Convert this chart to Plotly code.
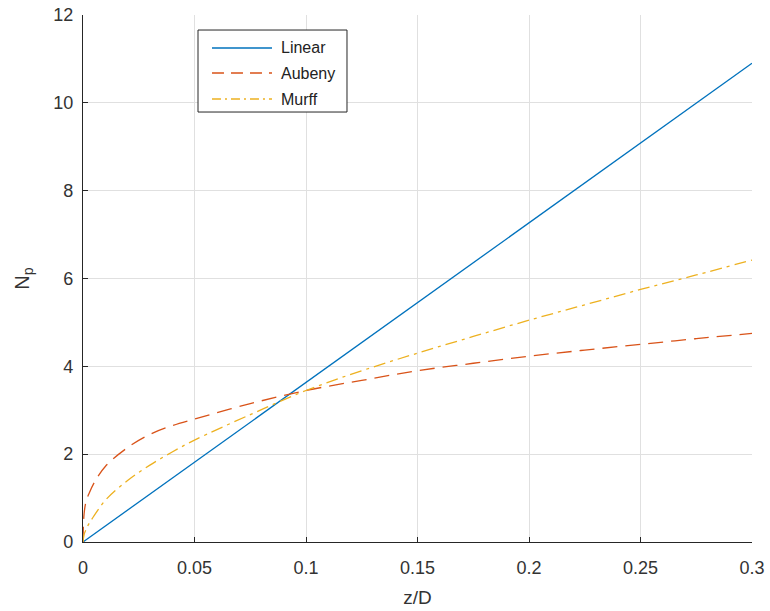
import plotly.graph_objects as go

# Normalised depth z/D
z_linear = [0.0, 0.3]
np_linear = [0.0, 10.9]

z_curve = [0.0, 0.0005, 0.0015, 0.0025, 0.005, 0.01, 0.02, 0.03, 0.04, 0.05, 0.075,
           0.1, 0.125, 0.15, 0.175, 0.2, 0.225, 0.25, 0.275, 0.3]
np_aubeny = [0.0, 0.65, 0.95, 1.08, 1.35, 1.72, 2.15, 2.45, 2.65, 2.8, 3.15,
             3.45, 3.68, 3.9, 4.07, 4.23, 4.37, 4.5, 4.63, 4.75]
np_murff = [0.0, 0.17, 0.3, 0.4, 0.6, 0.95, 1.4, 1.75, 2.05, 2.32, 2.9,
            3.45, 3.9, 4.3, 4.68, 5.05, 5.4, 5.75, 6.08, 6.42]

x_ticks = [0, 0.05, 0.1, 0.15, 0.2, 0.25, 0.3]
x_ticktext = ["0", "0.05", "0.1", "0.15", "0.2", "0.25", "0.3"]
y_ticks = [0, 2, 4, 6, 8, 10, 12]

FONT = "Liberation Sans, Arial, sans-serif"
TXT = "#333333"

series = [
    ("Linear", z_linear, np_linear, "#0072BD", "solid", "solid"),
    ("Aubeny", z_curve, np_aubeny, "#D95319", "15px,8px", "12px,7px"),
    ("Murff", z_curve, np_murff, "#EDB120", "12px,5px,3px,5px", "9px,4px,2px,4px"),
]

fig = go.Figure()
for name, xs, ys, color, dash, _ in series:
    fig.add_trace(go.Scatter(x=xs, y=ys, mode="lines", name=name, showlegend=False,
                             line=dict(color=color, width=1.3, dash=dash,
                                       shape="linear" if name == "Linear" else "spline")))

axis_common = dict(
    showgrid=True, gridcolor="#e0e0e0", gridwidth=1,
    zeroline=False, showline=True, linecolor="#262626", linewidth=1.2,
    ticks="inside", ticklen=5, tickcolor="#262626", mirror=False,
    automargin=False,
    tickfont=dict(family=FONT, size=18, color=TXT),
)

fig.update_layout(
    width=770, height=611,
    margin=dict(l=83, r=18, t=15, b=69),
    paper_bgcolor="white", plot_bgcolor="white",
    font=dict(family=FONT, color=TXT),
    xaxis=dict(range=[0, 0.3], tickvals=x_ticks, ticktext=x_ticktext, ticklabelstandoff=9,
               title=dict(text="z/D", font=dict(family=FONT, size=19, color=TXT), standoff=13),
               **axis_common),
    yaxis=dict(range=[0, 12], tickvals=y_ticks, ticklabelstandoff=5,
               title=dict(text="N<sub>p</sub>", font=dict(family=FONT, size=20, color=TXT), standoff=18),
               **axis_common),
    showlegend=False,
)

# Legend box drawn in paper coordinates
box_x0, box_x1, box_y0, box_y1 = 0.1719, 0.3946, 0.8159, 0.9715
fig.add_shape(type="rect", xref="paper", yref="paper", x0=box_x0, x1=box_x1, y0=box_y0, y1=box_y1,
              line=dict(color="#262626", width=1), fillcolor="white", layer="above")
row_y = [0.9374, 0.8899, 0.8406]
for (name, _, _, color, _, ldash), yy in zip(series, row_y):
    fig.add_shape(type="line", xref="paper", yref="paper", x0=0.1928, x1=0.2825, y0=yy, y1=yy,
                  line=dict(color=color, width=1.3, dash=ldash), layer="above")
    fig.add_annotation(xref="paper", yref="paper", x=0.2930, y=yy, text=name, showarrow=False,
                       xanchor="left", yanchor="middle",
                       font=dict(family=FONT, size=16, color="#222222"))

fig.write_html("out.html")
